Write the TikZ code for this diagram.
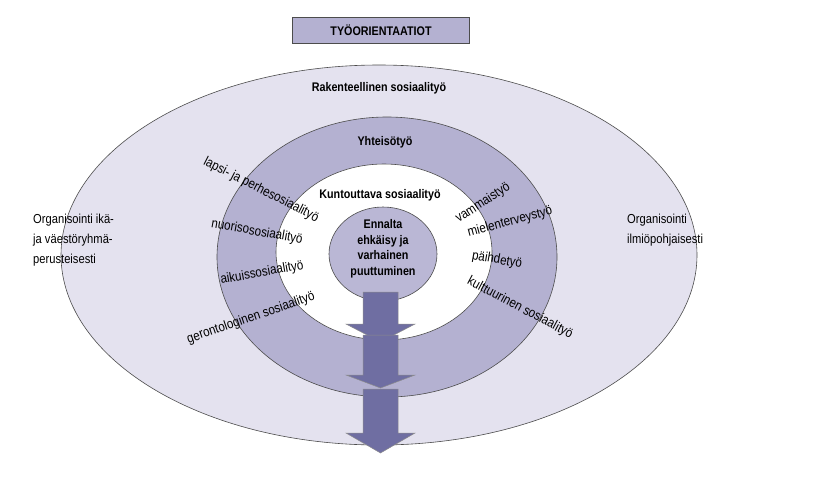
\documentclass[tikz,border=0pt]{standalone}
\usepackage{fontspec}
\setmainfont{Liberation Sans}[FakeStretch=0.86]
\begin{document}
\begin{tikzpicture}[x=1pt,y=-1pt,
  ring/.style={draw=black!70,line width=0.6pt},
  lbl/.style={font=\fontsize{13.5}{14}\selectfont,inner sep=0pt},
  bl/.style={font=\bfseries\fontsize{12.5}{15.5}\selectfont,inner sep=0pt,align=center},
  side/.style={font=\fontsize{13}{20}\selectfont,inner sep=0pt,align=left,anchor=north west},
  blockarrow/.style={fill=arrowc,draw=black!45,line width=0.5pt}]
\definecolor{outerc}{HTML}{E4E2EF}
\definecolor{midc}{HTML}{B4B1D1}
\definecolor{innerc}{HTML}{BAB7D5}
\definecolor{arrowc}{HTML}{6F6EA2}
\useasboundingbox (0,0) rectangle (819,483);
\fill[white] (0,0) rectangle (819,483);
% title
\node[draw=black!70,fill=midc,minimum width=177pt,minimum height=26pt,font=\bfseries\fontsize{12.5}{14}\selectfont] (title) at (381,30) {TYÖORIENTAATIOT};
% rings
\draw[ring,fill=outerc] (379,255) ellipse [x radius=318, y radius=190];
\draw[ring,fill=midc] (387,257) ellipse [x radius=170, y radius=140];
\draw[ring,fill=white] (384,252) ellipse [x radius=108, y radius=88];
\draw[ring,fill=innerc] (383,254) ellipse [x radius=54, y radius=47];
% arrows
\foreach \t/\h/\p in {292/324/342, 335/375/388, 389/433/453}{
  \draw[blockarrow] (363,\t) -- (398,\t) -- (398,\h) -- (415,\h) -- (380.5,\p) -- (346,\h) -- (363,\h) -- cycle;
}
% ring labels
\node[bl] (rak) at (379,88) {Rakenteellinen sosiaalityö};
\node[bl] (yht) at (385,142) {Yhteisötyö};
\node[bl] (kun) at (380,195) {Kuntouttava sosiaalityö};
\node[bl] (enn) at (383,249) {Ennalta\\ehkäisy ja\\varhainen\\puuttuminen};
% left labels
\node[lbl,rotate=-27] (lap) at (261,190) {lapsi- ja perhesosiaalityö};
\node[lbl,rotate=-10] (nuo) at (257,232) {nuorisososiaalityö};
\node[lbl,rotate=10] (aik) at (262,273) {aikuissosiaalityö};
\node[lbl,rotate=19] (ger) at (251,318) {gerontologinen sosiaalityö};
% right labels
\node[lbl,rotate=33] (vam) at (483,203) {vammaistyö};
\node[lbl,rotate=15] (mie) at (510,222) {mielenterveystyö};
\node[lbl,rotate=-10] (pai) at (497,260) {päihdetyö};
\node[lbl,rotate=-28] (kul) at (520,308) {kulttuurinen sosiaalityö};
% side texts
\node[side] (left) at (33,214) {Organisointi ikä-\\ja väestöryhmä-\\perusteisesti};
\node[side] (right) at (627,214) {Organisointi\\ilmiöpohjaisesti};
\end{tikzpicture}
\end{document}
